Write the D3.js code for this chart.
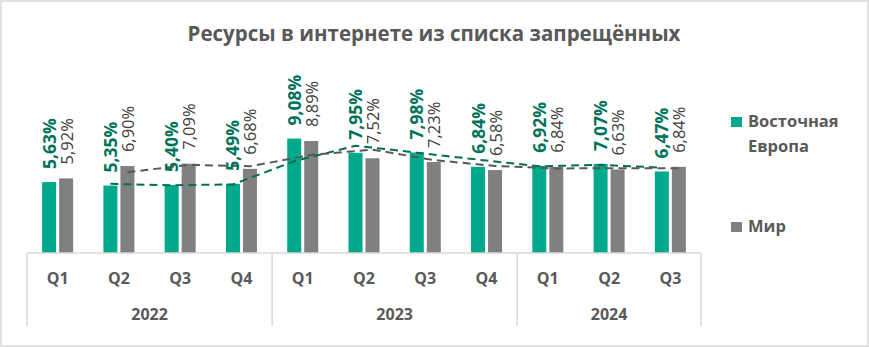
<!DOCTYPE html>
<html><head><meta charset="utf-8">
<script src="https://cdn.jsdelivr.net/npm/d3@7"></script>
<style>html,body{margin:0;padding:0;background:#fff;}svg{display:block;font-family:"Open Sans",sans-serif;}</style>
</head><body>
<svg id="c" width="869" height="347"></svg>
<script>
const title = "Ресурсы в интернете из списка запрещённых";
const quarters = ["Q1","Q2","Q3","Q4","Q1","Q2","Q3","Q4","Q1","Q2","Q3"];
const years = ["2022","2022","2022","2022","2023","2023","2023","2023","2024","2024","2024"];
const seriesNames = ["Восточная Европа","Мир"];
const eastEurope = [5.63,5.35,5.40,5.49,9.08,7.95,7.98,6.84,6.92,7.07,6.47];
const world = [5.92,6.90,7.09,6.68,8.89,7.52,7.23,6.58,6.84,6.63,6.84];

const colors = ["#00A88C","#808080"];
const labelColors = ["#00735B","#404040"];
const trendColors = ["#00704F","#595959"];

const svg = d3.select("#c");
svg.append("rect").attr("x",1).attr("y",1).attr("width",867).attr("height",345)
  .attr("fill","#fff").attr("stroke","#d9d9d9").attr("stroke-width",1.5);

svg.append("text").attr("x",434).attr("y",41).attr("text-anchor","middle")
  .attr("font-size",20.5).attr("font-weight","bold").attr("fill","#595959").text(title);

const idx = d3.range(quarters.length);
const x0 = d3.scaleBand().domain(idx).range([27,701]).padding(0);
const bw = x0.bandwidth();
const step = 17, barW = 14;
const pi = (step-barW)/step;
const po = (bw/step - 2 + pi)/2;
const x1 = d3.scaleBand().domain([0,1]).range([0,bw]).paddingInner(pi).paddingOuter(po);
const y = d3.scaleLinear().domain([0,10]).range([253,127]);

const data = [eastEurope, world];

// bars
data.forEach((vals,s)=>{
  svg.append("g").selectAll("rect").data(vals).join("rect")
    .attr("x",(d,i)=>x0(i)+x1(s)).attr("width",x1.bandwidth())
    .attr("y",d=>y(d)).attr("height",d=>y(0)-y(d)).attr("fill",colors[s]);
});

// moving average trendlines (period 2)
data.forEach((vals,s)=>{
  const pts = idx.slice(1).map(i=>[x0(i)+x1(s)+x1.bandwidth()/2, y(d3.mean([vals[i-1],vals[i]]))]);
  svg.append("path").attr("d",d3.line()(pts)).attr("fill","none")
    .attr("stroke",trendColors[s]).attr("stroke-width",2).attr("stroke-dasharray","8,5");
});

// labels
const fmt = v => d3.format(".2f")(v).replace(".",",")+"%";
const offs = [13,14];
data.forEach((vals,s)=>{
  svg.append("g").selectAll("text").data(vals).join("text")
    .attr("transform",(d,i)=>{const cx=x0(i)+x1(s)+x1.bandwidth()/2; return `translate(${cx+6.5},${y(d)-offs[s]}) rotate(-90)`;})
    .attr("text-anchor","start")
    .attr("font-size",s===0?17.5:16.5)
    .attr("font-weight",s===0?"bold":"normal")
    .attr("fill",labelColors[s]).text(d=>fmt(d));
});

// category axis
const ax = svg.append("g").attr("stroke","#d9d9d9").attr("stroke-width",1.5);
ax.append("line").attr("x1",27).attr("x2",701).attr("y1",253).attr("y2",253);
const bounds = [0,4,8,11];
bounds.forEach(b=>{
  const xx = b<11 ? x0(b) : x0(10)+bw;
  ax.append("line").attr("x1",xx).attr("x2",xx).attr("y1",253).attr("y2",326);
});
svg.append("g").selectAll("text").data(quarters).join("text")
  .attr("x",(d,i)=>x0(i)+bw/2).attr("y",284).attr("text-anchor","middle")
  .attr("font-size",16).attr("font-weight","bold").attr("fill","#595959").text(d=>d);
const yearGroups = d3.groups(idx, i=>years[i]);
svg.append("g").selectAll("text").data(yearGroups).join("text")
  .attr("x",d=>(x0(d[1][0])+x0(d[1][d[1].length-1])+bw)/2).attr("y",320).attr("text-anchor","middle")
  .attr("font-size",16).attr("font-weight","bold").attr("fill","#595959").text(d=>d[0]);

// legend
const lg = svg.append("g");
const legendY = [127, 232];
seriesNames.forEach((n,s)=>{
  lg.append("rect").attr("x",731).attr("y",legendY[s]-10).attr("width",11).attr("height",10).attr("fill",colors[s]);
  const words = n.split(" ");
  words.forEach((w,k)=>{
    lg.append("text").attr("x",748).attr("y",legendY[s]+k*25).attr("font-size",16.5)
      .attr("font-weight","bold").attr("fill","#595959").text(w);
  });
});
</script>
</body></html>
